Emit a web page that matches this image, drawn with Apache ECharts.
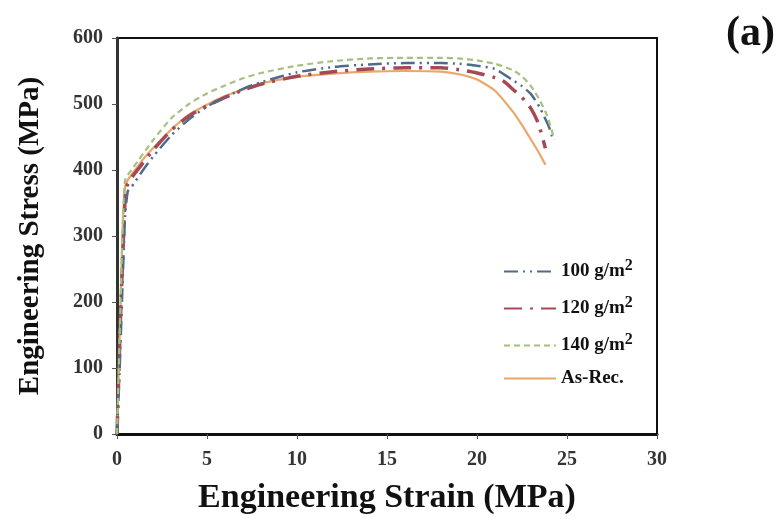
<!DOCTYPE html>
<html>
<head>
<meta charset="utf-8">
<script src="https://cdn.jsdelivr.net/npm/echarts@6/dist/echarts.min.js"></script>
<style>
html,body{margin:0;padding:0;background:#fff;}
#chart{width:780px;height:519px;}
</style>
</head>
<body>
<div id="chart"></div>
<script>
// ---- data (strain in x, stress in MPa) ----
var seriesNames = ['100 g/m2', '120 g/m2', '140 g/m2', 'As-Rec.'];

var strain100 = [0, 0.15, 0.3, 0.45, 0.6, 0.8, 1.0, 1.5, 2, 3, 4, 5, 6, 7, 8, 10, 12, 14, 16, 18, 19, 20, 21, 22, 22.5, 23, 23.5, 24, 24.2];
var stress100 = [0, 100, 220, 330, 368, 374, 382, 402, 420, 452, 477, 496, 510, 523, 533, 548, 556, 560, 562, 562, 561, 558, 553, 536, 527, 515, 494, 465, 448];

var strain120 = [0, 0.1, 0.2, 0.35, 0.5, 0.8, 1.2, 2, 3, 4, 5, 6, 7, 8, 10, 12, 14, 16, 18, 19, 20, 21, 21.5, 22, 22.5, 23, 23.4, 23.8];
var stress120 = [0, 90, 180, 290, 372, 388, 402, 430, 460, 482, 497, 510, 521, 530, 542, 549, 553, 555, 555, 552, 547, 540, 534, 522, 510, 493, 471, 433];

var strain140 = [0, 0.1, 0.2, 0.3, 0.45, 0.8, 1.2, 2, 3, 4, 5, 6, 7, 8, 10, 12, 14, 16, 18, 19, 20, 21, 22, 22.5, 23, 23.5, 23.9, 24.3];
var stress140 = [0, 100, 200, 300, 385, 400, 415, 445, 478, 500, 516, 528, 539, 547, 558, 565, 569, 570, 570, 569, 566, 561, 551, 542, 527, 505, 482, 446];

var strainAR = [0, 0.1, 0.2, 0.3, 0.45, 0.6, 1, 1.5, 2, 3, 4, 5, 6, 7, 8, 10, 12, 14, 16, 18, 19, 20, 21, 22, 22.5, 23, 23.4, 23.8];
var stressAR = [0, 100, 200, 300, 374, 385, 400, 418, 433, 461, 484, 499, 512, 522, 531, 541, 546, 549, 550, 549, 545, 537, 520, 488, 468, 446, 428, 408];

var xTicks = [0, 5, 10, 15, 20, 25, 30];
var yTicks = [0, 100, 200, 300, 400, 500, 600];

function zip(xs, ys) { return xs.map(function (x, i) { return [x, ys[i]]; }); }

var serif = 'Liberation Serif, Times New Roman, serif';
var chart = echarts.init(document.getElementById('chart'), null, {renderer: 'canvas'});

var option = {
  backgroundColor: '#ffffff',
  animation: false,
  title: {
    text: '(a)', right: 0, top: 8,
    textStyle: {fontFamily: serif, fontWeight: 'bold', fontSize: 42, color: '#111'}
  },
  grid: {
    left: 117, right: 123, top: 38, bottom: 85,
    outerBoundsMode: 'none', containLabel: false,
    show: true, borderColor: '#111', borderWidth: 2, backgroundColor: 'transparent'
  },
  legend: {
    orient: 'vertical', left: 498, top: 253,
    itemWidth: 52, itemHeight: 14, itemGap: 14,
    data: seriesNames,
    itemStyle: {opacity: 0},
    formatter: function (n) {
      if (n.indexOf('g/m2') >= 0) { return n.replace('g/m2', 'g/m{s|2}'); }
      return n;
    },
    textStyle: {
      fontFamily: serif, fontWeight: 'bold', fontSize: 19, color: '#111',
      rich: {s: {fontFamily: serif, fontWeight: 'bold', fontSize: 16, color: '#111', verticalAlign: 'bottom', padding: [0, 0, 11, 0]}}
    }
  },
  xAxis: {
    type: 'value', min: 0, max: 30, interval: 5,
    name: 'Engineering Strain (MPa)', nameLocation: 'middle', nameGap: 47,
    nameTextStyle: {fontFamily: serif, fontWeight: 'bold', fontSize: 34, color: '#111'},
    axisLine: {show: true, lineStyle: {color: '#111', width: 3}},
    axisTick: {show: true, inside: false, length: 5, lineStyle: {color: '#555'}},
    axisLabel: {fontFamily: serif, fontWeight: 'bold', fontSize: 20, color: '#333', margin: 16,
      formatter: function (v) { return xTicks.indexOf(v) >= 0 ? String(v) : ''; }},
    splitLine: {show: false}
  },
  yAxis: {
    type: 'value', min: 0, max: 600, interval: 100,
    name: 'Engineering Stress (MPa)', nameLocation: 'middle', nameGap: 72,
    nameTextStyle: {fontFamily: serif, fontWeight: 'bold', fontSize: 29, color: '#111'},
    axisLine: {show: true, lineStyle: {color: '#333', width: 3}},
    axisTick: {show: true, inside: false, length: 5, lineStyle: {color: '#555'}},
    axisLabel: {fontFamily: serif, fontWeight: 'bold', fontSize: 20, color: '#333', margin: 14,
      formatter: function (v) { return yTicks.indexOf(v) >= 0 ? String(v) : ''; }},
    splitLine: {show: false}
  },
  series: [
    {
      name: seriesNames[0], type: 'line', data: zip(strain100, stress100),
      symbol: 'none', smooth: 0.2, z: 4,
      lineStyle: {color: '#4e6c88', width: 2.5, type: [14, 5, 2, 5, 2, 5]},
      itemStyle: {color: '#4e6c88'}
    },
    {
      name: seriesNames[1], type: 'line', data: zip(strain120, stress120),
      symbol: 'none', smooth: 0.2, z: 3,
      lineStyle: {color: '#a54a55', width: 3.5, type: [18, 8, 3, 8]},
      itemStyle: {color: '#a54a55'}
    },
    {
      name: seriesNames[2], type: 'line', data: zip(strain140, stress140),
      symbol: 'none', smooth: 0.2, z: 5,
      lineStyle: {color: '#a6c07e', width: 2.2, type: [6, 4]},
      itemStyle: {color: '#a6c07e'}
    },
    {
      name: seriesNames[3], type: 'line', data: zip(strainAR, stressAR),
      symbol: 'none', smooth: 0.2, z: 2,
      lineStyle: {color: '#e9a86a', width: 2.2, type: 'solid'},
      itemStyle: {color: '#e9a86a'}
    }
  ]
};
chart.setOption(option);
</script>
</body>
</html>
